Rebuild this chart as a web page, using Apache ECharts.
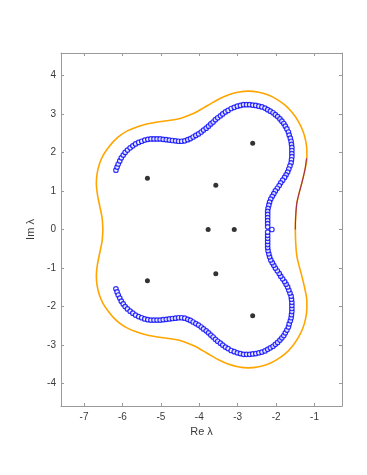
<!DOCTYPE html>
<html>
<head>
<meta charset="utf-8">
<script src="https://cdn.jsdelivr.net/npm/echarts@6/dist/echarts.min.js"></script>
<style>
  html, body { margin: 0; padding: 0; background: #fff; }
  #chart { width: 367px; height: 475px; }
</style>
</head>
<body>
<div id="chart"></div>
<script>
// tick positions
var xTicks = [-7, -6, -5, -4, -3, -2, -1];
var yTicks = [-4, -3, -2, -1, 0, 1, 2, 3, 4];

// eigenvalues (black dots)
var eigRe = [-2.61, -5.35, -3.57, -3.77, -3.09, -3.57, -5.35, -2.61];
var eigIm = [2.24, 1.33, 1.15, 0, 0, -1.15, -1.33, -2.24];

// blue circles, upper half (the lower half shares the same Re values)
var blueRe = [-6.17,-6.14,-6.11,-6.07,-6.03,-5.98,-5.93,-5.87,-5.80,-5.73,-5.66,-5.58,-5.50,-5.42,
  -5.34,-5.26,-5.18,-5.10,-5.02,-4.94,-4.86,-4.78,-4.70,-4.62,-4.54,-4.46,-4.38,-4.30,-4.23,-4.16,
  -4.09,-4.02,-3.95,-3.89,-3.82,-3.76,-3.70,-3.64,-3.58,-3.52,-3.45,-3.39,-3.32,-3.25,-3.17,-3.09,
  -3.01,-2.93,-2.85,-2.77,-2.69,-2.61,-2.53,-2.45,-2.37,-2.29,-2.22,-2.15,-2.08,-2.02,-1.96,-1.90,
  -1.85,-1.80,-1.76,-1.72,-1.68,-1.66,-1.63,-1.61,-1.60,-1.59,-1.59,-1.59,-1.59,-1.60,-1.61,-1.64,
  -1.67,-1.70,-1.74,-1.78,-1.83,-1.88,-1.92,-1.97,-2.02,-2.06,-2.10,-2.14,-2.17,-2.19,-2.21,-2.22,
  -2.22,-2.22,-2.22,-2.22,-2.22];
var blueImUp = [1.54,1.62,1.70,1.78,1.86,1.93,2.00,2.06,2.12,2.17,2.22,2.26,2.29,2.32,
  2.34,2.35,2.35,2.35,2.35,2.34,2.33,2.32,2.31,2.30,2.29,2.29,2.30,2.33,2.36,2.40,
  2.44,2.48,2.53,2.58,2.63,2.68,2.74,2.79,2.85,2.90,2.95,3.00,3.05,3.09,3.14,3.17,
  3.20,3.22,3.24,3.24,3.24,3.23,3.22,3.20,3.18,3.15,3.11,3.07,3.03,2.98,2.93,2.87,
  2.81,2.75,2.68,2.61,2.53,2.45,2.37,2.29,2.21,2.13,2.05,1.97,1.89,1.81,1.73,1.65,
  1.57,1.49,1.42,1.35,1.28,1.21,1.14,1.07,1.00,0.93,0.86,0.79,0.71,0.63,0.55,0.47,
  0.39,0.31,0.23,0.15,0.07];
var blueImLow = [-1.54,-1.62,-1.70,-1.78,-1.86,-1.93,-2.00,-2.06,-2.12,-2.17,-2.22,-2.26,-2.29,-2.32,
  -2.34,-2.35,-2.35,-2.35,-2.35,-2.34,-2.33,-2.32,-2.31,-2.30,-2.29,-2.29,-2.30,-2.33,-2.36,-2.40,
  -2.44,-2.48,-2.53,-2.58,-2.63,-2.68,-2.74,-2.79,-2.85,-2.90,-2.95,-3.00,-3.05,-3.09,-3.14,-3.17,
  -3.20,-3.22,-3.24,-3.24,-3.24,-3.23,-3.22,-3.20,-3.18,-3.15,-3.11,-3.07,-3.03,-2.98,-2.93,-2.87,
  -2.81,-2.75,-2.68,-2.61,-2.53,-2.45,-2.37,-2.29,-2.21,-2.13,-2.05,-1.97,-1.89,-1.81,-1.73,-1.65,
  -1.57,-1.49,-1.42,-1.35,-1.28,-1.21,-1.14,-1.07,-1.00,-0.93,-0.86,-0.79,-0.71,-0.63,-0.55,-0.47,
  -0.39,-0.31,-0.23,-0.15,-0.07];
// the lone circle on the real axis
var blueMidRe = [-2.11];
var blueMidIm = [0];

// orange closed curve
var orangeRe = [-6.51,-6.53,-6.59,-6.65,-6.68,-6.66,-6.60,-6.50,-6.37,-6.22,-6.05,-5.87,-5.66,-5.44,
  -5.20,-4.94,-4.70,-4.50,-4.30,-4.11,-3.90,-3.68,-3.46,-3.25,-3.00,-2.72,-2.45,-2.20,-1.97,-1.76,
  -1.57,-1.42,-1.30,-1.23,-1.20,-1.20,-1.25,-1.33,-1.40,-1.46,-1.49,-1.50,
  -1.49,-1.46,-1.40,-1.33,-1.25,-1.20,-1.20,-1.23,-1.30,-1.42,-1.57,-1.76,-1.97,-2.20,-2.45,-2.72,
  -3.00,-3.25,-3.46,-3.68,-3.90,-4.11,-4.30,-4.50,-4.70,-4.94,-5.20,-5.44,-5.66,-5.87,-6.05,-6.22,
  -6.37,-6.50,-6.60,-6.66,-6.68,-6.65,-6.59,-6.53,-6.51];
var orangeIm = [0,0.30,0.60,0.90,1.20,1.45,1.70,1.93,2.12,2.30,2.45,2.56,2.65,2.72,
  2.77,2.81,2.84,2.88,2.95,3.03,3.15,3.28,3.40,3.49,3.56,3.59,3.56,3.49,3.37,3.22,
  3.02,2.80,2.55,2.30,2.05,1.85,1.55,1.21,0.95,0.69,0.35,0,
  -0.35,-0.69,-0.95,-1.21,-1.55,-1.85,-2.05,-2.30,-2.55,-2.80,-3.02,-3.22,-3.37,-3.49,-3.56,-3.59,
  -3.56,-3.49,-3.40,-3.28,-3.15,-3.03,-2.95,-2.88,-2.84,-2.81,-2.77,-2.72,-2.65,-2.56,-2.45,-2.30,
  -2.12,-1.93,-1.70,-1.45,-1.20,-0.90,-0.60,-0.30,0];

// dark red piece on the right side of the orange curve
var redRe = [-1.50,-1.49,-1.46,-1.40,-1.33,-1.25,-1.21];
var redIm = [0,0.35,0.69,0.95,1.21,1.55,1.85];

function pairs(re, im) {
    return re.map(function (v, i) { return [v, im[i]]; });
}

var axisGrey = '#9a9a9a';
var textGrey = '#3a3a3a';
var fontFam = '"Liberation Sans", Arial, sans-serif';

function makeX(pos, showLabel) {
    return {
        type: 'value', position: pos, min: -7.6, max: -0.285,
        name: showLabel ? 'Re λ' : '', nameLocation: 'middle', nameGap: 20,
        nameTextStyle: { color: textGrey, fontSize: 11, fontFamily: fontFam },
        axisLine: { show: true, onZero: false, lineStyle: { color: axisGrey, width: 1 } },
        axisTick: { show: true, inside: true, length: 3, customValues: xTicks, lineStyle: { color: axisGrey } },
        axisLabel: { show: showLabel, customValues: xTicks, margin: 6, color: textGrey, fontSize: 10, fontFamily: fontFam },
        splitLine: { show: false }
    };
}
function makeY(pos, showLabel) {
    return {
        type: 'value', position: pos, min: -4.58, max: 4.58,
        name: showLabel ? 'Im λ' : '', nameLocation: 'middle', nameGap: 18, nameRotate: 90,
        nameTextStyle: { color: textGrey, fontSize: 11, fontFamily: fontFam },
        axisLine: { show: true, onZero: false, lineStyle: { color: axisGrey, width: 1 } },
        axisTick: { show: true, inside: true, length: 3, customValues: yTicks, lineStyle: { color: axisGrey } },
        axisLabel: { show: showLabel, customValues: yTicks, margin: 5, color: textGrey, fontSize: 10, fontFamily: fontFam },
        splitLine: { show: false }
    };
}

var myChart = echarts.init(document.getElementById('chart'));
var option = {
    animation: false,
    backgroundColor: '#fff',
    grid: { left: 61, right: 25, top: 53, bottom: 69 },
    xAxis: [makeX('bottom', true), makeX('top', false)],
    yAxis: [makeY('left', true), makeY('right', false)],
    series: [{
        name: 'contour',
        type: 'line',
        data: pairs(orangeRe, orangeIm),
        smooth: 0.3,
        symbol: 'none',
        lineStyle: { color: '#ffa500', width: 1.6 }
    }, {
        name: 'piece',
        type: 'line',
        data: pairs(redRe, redIm),
        smooth: 0.3,
        symbol: 'none',
        lineStyle: { color: '#9b2d5a', width: 1.1 }
    }, {
        name: 'boundary',
        type: 'scatter',
        data: pairs(blueRe, blueImUp).concat(pairs(blueMidRe, blueMidIm), pairs(blueRe, blueImLow)),
        symbol: 'circle',
        symbolSize: 4.5,
        itemStyle: { color: '#fff', borderColor: '#0000ff', borderWidth: 1.2 }
    }, {
        name: 'eig',
        type: 'scatter',
        data: pairs(eigRe, eigIm),
        symbol: 'circle',
        symbolSize: 5,
        itemStyle: { color: '#000' }
    }]
};
myChart.setOption(option);
</script>
</body>
</html>
